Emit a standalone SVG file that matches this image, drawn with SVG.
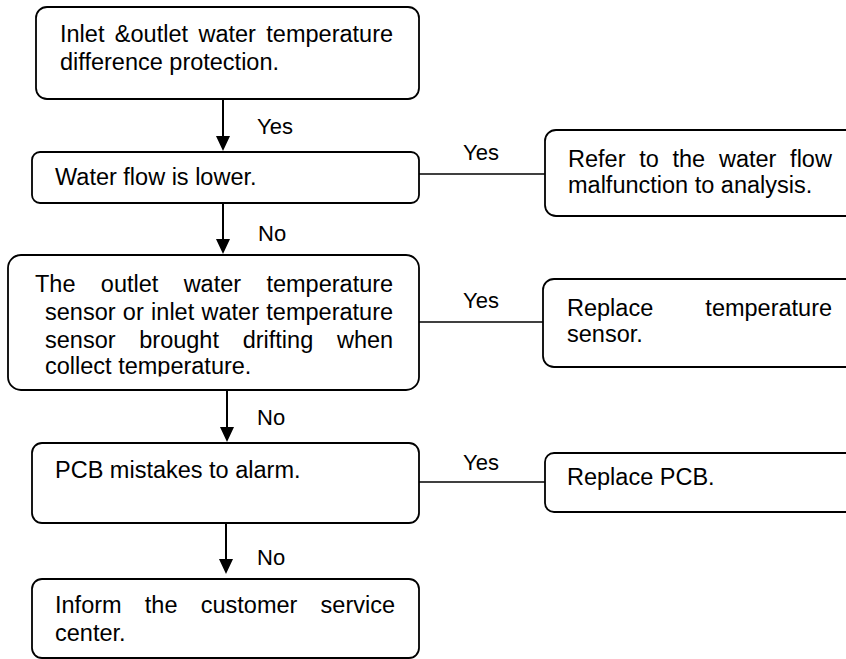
<svg xmlns="http://www.w3.org/2000/svg" width="846" height="659" viewBox="0 0 846 659">
<style>
.box{fill:#fff;stroke:#000;stroke-width:1.8}
.t{font-family:"Liberation Sans",Arial,sans-serif;font-size:23.5px;fill:#000}
.lbl{font-family:"Liberation Sans",Arial,sans-serif;font-size:22px;fill:#000}
.ln{stroke:#000;stroke-width:2;fill:none}
.hl{stroke:#000;stroke-width:1.6;fill:none}
</style>
<defs>
<clipPath id="clip3"><rect x="0" y="250" width="430" height="126.5"/></clipPath>
</defs>
<rect width="846" height="659" fill="#fff"/>
<g id="connectors">
<line class="ln" x1="223" y1="99" x2="223" y2="138"/>
<polygon points="216,136 230,136 223,151"/>
<line class="ln" x1="223" y1="203" x2="223" y2="241"/>
<polygon points="216,239 230,239 223,254"/>
<line class="ln" x1="227" y1="390" x2="227" y2="429"/>
<polygon points="220,427 234,427 227,442"/>
<line class="ln" x1="226" y1="523" x2="226" y2="561"/>
<polygon points="219,559 233,559 226,574"/>
<line class="hl" x1="419" y1="174" x2="545" y2="174"/>
<line class="hl" x1="419" y1="322" x2="543" y2="322"/>
<line class="hl" x1="419" y1="482" x2="545" y2="482"/>
<text class="lbl" x="257" y="134">Yes</text>
<text class="lbl" x="258" y="241">No</text>
<text class="lbl" x="257" y="425">No</text>
<text class="lbl" x="257" y="565">No</text>
<text class="lbl" x="463" y="160">Yes</text>
<text class="lbl" x="463" y="308">Yes</text>
<text class="lbl" x="463" y="470">Yes</text>
</g>
<g id="n1">
<rect class="box" x="36" y="7" width="383" height="92" rx="11"/>
<text class="t" x="60" y="42" word-spacing="3.9">Inlet &amp;outlet water temperature</text>
<text class="t" x="60" y="70">difference protection.</text>
</g>
<g id="n2">
<rect class="box" x="32" y="152" width="387" height="51" rx="8"/>
<text class="t" x="55" y="185">Water flow is lower.</text>
</g>
<g id="n3">
<rect class="box" x="8" y="255" width="411" height="135" rx="13"/>
<g clip-path="url(#clip3)">
<text class="t" x="35" y="292" word-spacing="18.8">The outlet water temperature</text>
<text class="t" x="45" y="320" word-spacing="0.8">sensor or inlet water temperature</text>
<text class="t" x="45" y="348" word-spacing="17.2">sensor brought drifting when</text>
<text class="t" x="45" y="374">collect temperature.</text>
</g>
</g>
<g id="n4">
<rect class="box" x="32" y="443" width="387" height="80" rx="10"/>
<text class="t" x="55" y="478">PCB mistakes to alarm.</text>
</g>
<g id="n5">
<rect class="box" x="32" y="579" width="387" height="79" rx="10"/>
<text class="t" x="55" y="613" word-spacing="16.7">Inform the customer service</text>
<text class="t" x="55" y="641">center.</text>
</g>
<g id="r1">
<rect class="box" x="545" y="130" width="320" height="86" rx="11"/>
<text class="t" x="568" y="167" word-spacing="7.2">Refer to the water flow</text>
<text class="t" x="568" y="193">malfunction to analysis.</text>
</g>
<g id="r2">
<rect class="box" x="543" y="279" width="320" height="88" rx="11"/>
<text class="t" x="567" y="316" word-spacing="45.6">Replace temperature</text>
<text class="t" x="567" y="342">sensor.</text>
</g>
<g id="r3">
<rect class="box" x="545" y="453" width="320" height="59" rx="9"/>
<text class="t" x="567" y="485">Replace PCB.</text>
</g>
</svg>
